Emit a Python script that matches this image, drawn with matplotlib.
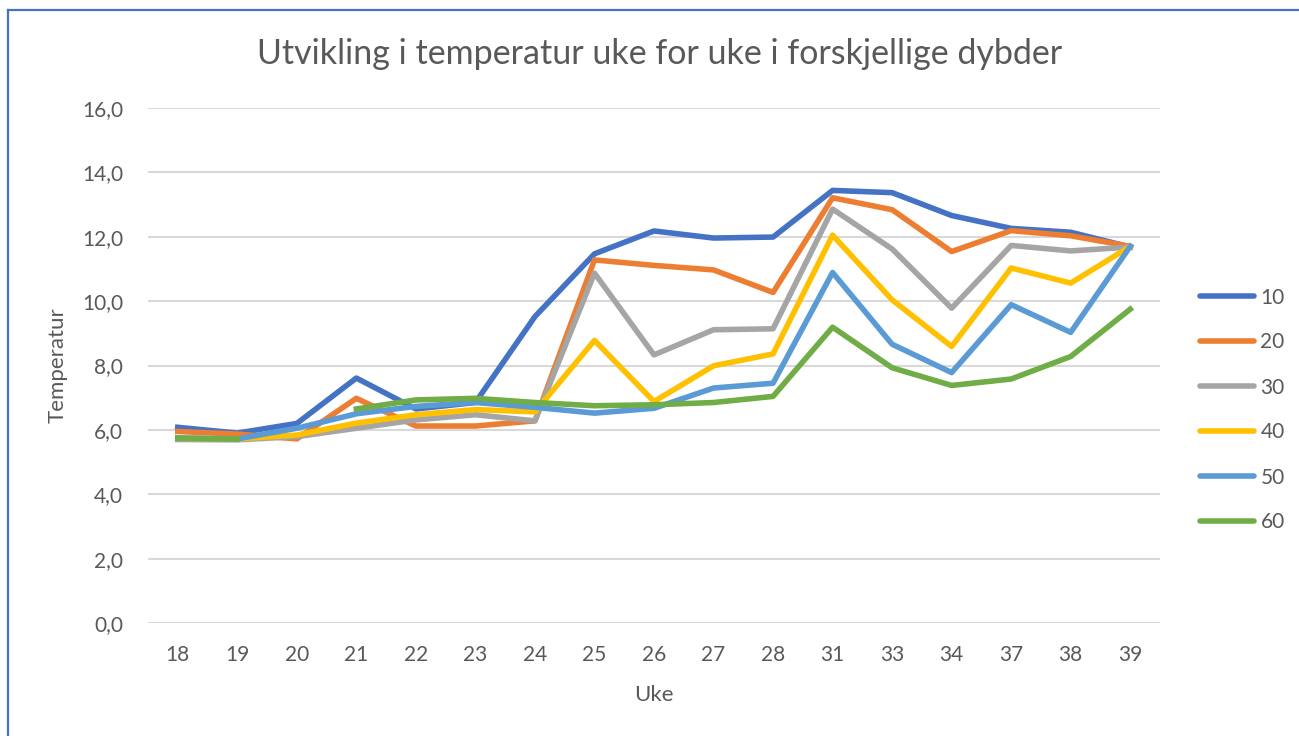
import numpy as np
import matplotlib
matplotlib.use('Agg')
import matplotlib.pyplot as plt
from matplotlib.lines import Line2D
from matplotlib.ticker import FuncFormatter

plt.rcParams['font.family'] = ['Lato', 'DejaVu Sans']

# uke (week) categories
weeks = ['18', '19', '20', '21', '22', '23', '24', '25', '26', '27', '28',
         '31', '33', '34', '37', '38', '39']

# temperature per depth
d10 = [6.08, 5.90, 6.20, 7.61, 6.65, 6.85, 9.52, 11.47, 12.18, 11.96, 11.99,
       13.44, 13.37, 12.66, 12.26, 12.14, 11.68]
d20 = [5.95, 5.87, 5.72, 6.98, 6.12, 6.12, 6.28, 11.28, 11.11, 10.97, 10.27,
       13.21, 12.84, 11.54, 12.19, 12.03, 11.70]
d30 = [5.70, 5.69, 5.79, 6.05, 6.31, 6.47, 6.28, 10.87, 8.33, 9.11, 9.14,
       12.86, 11.62, 9.78, 11.73, 11.56, 11.68]
d40 = [5.74, 5.72, 5.84, 6.21, 6.47, 6.63, 6.56, 8.78, 6.88, 7.99, 8.36,
       12.05, 10.04, 8.59, 11.03, 10.56, 11.70]
d50 = [5.75, 5.72, 6.05, 6.50, 6.73, 6.85, 6.70, 6.52, 6.67, 7.30, 7.45,
       10.89, 8.66, 7.78, 9.89, 9.03, 11.70]
d60 = [5.74, 5.72, np.nan, 6.65, 6.93, 6.98, 6.85, 6.75, 6.78, 6.85, 7.04,
       9.19, 7.93, 7.38, 7.58, 8.28, 9.75]

series = [d10, d20, d30, d40, d50, d60]
labels = ['10', '20', '30', '40', '50', '60']
colors = ['#4472C4', '#ED7D31', '#A5A5A5', '#FFC000', '#5B9BD5', '#70AD47']

txt = '#595959'

fig = plt.figure(figsize=[12.99, 7.36], dpi=100)
ax = fig.add_axes([148/1299, 1-623/736, (1160-148)/1299, (623-108)/736])

x = np.arange(len(weeks))
for s, lab, c in zip(series, labels, colors):
    ax.plot(x, s, color=c, linewidth=4.0, label=lab, solid_joinstyle='round')

ax.set_xlim(-0.5, len(weeks)-0.5)
ax.set_ylim(0, 16)
ax.set_yticks(np.arange(0, 17, 2))
ax.yaxis.set_major_formatter(FuncFormatter(lambda v, p: '{:.1f}'.format(v).replace('.', ',')))
ax.set_xticks(x)
ax.set_xticklabels(weeks)
ax.grid(True, axis='y', color='#D9D9D9', linewidth=1.5)
ax.set_axisbelow(True)
for sp in ax.spines.values():
    sp.set_visible(False)
ax.tick_params(axis='both', length=0, labelsize=15, colors=txt)
ax.tick_params(axis='y', pad=18)
ax.tick_params(axis='x', pad=16)

ax.set_xlabel('Uke', fontsize=16, color=txt, labelpad=14)
ax.set_ylabel('Temperatur', fontsize=16, color=txt, labelpad=10)

fig.text(660/1299, 1-54/736, 'Utvikling i temperatur uke for uke i forskjellige dybder',
         ha='center', va='center', fontsize=24.5, color=txt)

handles = [Line2D([0], [0], color=c, linewidth=4.0, solid_capstyle='round') for c in colors]
fig.legend(handles, labels, loc='center left', bbox_to_anchor=(1200/1299, 1-410/736),
           frameon=False, fontsize=15, labelcolor=txt, handlelength=2.6,
           handletextpad=0.3, labelspacing=1.2, borderpad=0, borderaxespad=0)

# chart frame (only left and top edges visible)
fig.add_artist(Line2D([8/1299, 8/1299], [0, 1-10/736], color='#4472C4', linewidth=1.6))
fig.add_artist(Line2D([8/1299, 1], [1-10/736, 1-10/736], color='#4472C4', linewidth=1.6))

fig.savefig('out.png', dpi=100)
